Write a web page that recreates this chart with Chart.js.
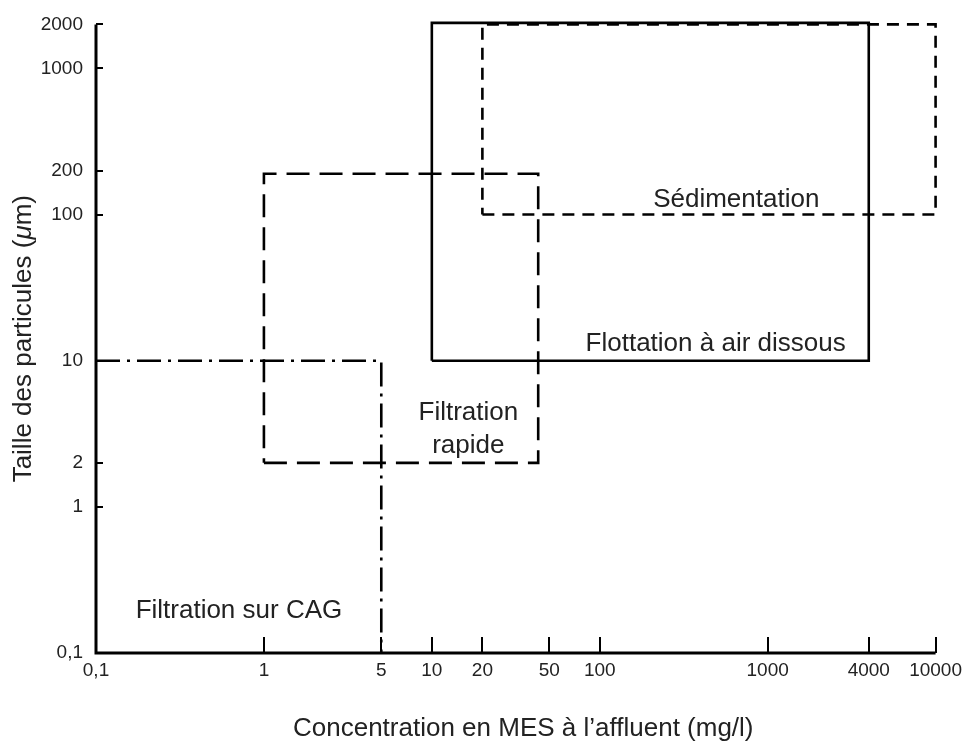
<!DOCTYPE html>
<html>
<head>
<meta charset="utf-8">
<script src="https://cdn.jsdelivr.net/npm/chart.js@4/dist/chart.umd.min.js"></script>
<style>
  html,body{margin:0;padding:0;background:#fff;}
  #wrap{width:968px;height:744px;}
</style>
</head>
<body>
<div id="wrap"><canvas id="c" width="968" height="744"></canvas></div>
<script>
// tick values and labels
const xTicks = [0.1, 1, 5, 10, 20, 50, 100, 1000, 4000, 10000];
const xTickLabels = ['0,1', '1', '5', '10', '20', '50', '100', '1000', '4000', '10000'];
const yTicks = [0.1, 1, 2, 10, 100, 200, 1000, 2000];
const yTickLabels = ['0,1', '1', '2', '10', '100', '200', '1000', '2000'];

// domains: [xmin, xmax, ymin, ymax]
const cag = [[0.1, 10], [5, 10], [5, 0.1]];
const rapide = [1, 43, 2, 190];
const flottation = [10, 4000, 10, 2050];
const sedimentation = [20, 10000, 100, 2000];

// label anchors (data coordinates)
const areaLabels = [
  {text: ['Sédimentation'], x: 650, y: 127},
  {text: ['Flottation à air dissous'], x: 490, y: 13},
  {text: ['Filtration', 'rapide'], x: 16.5, y: 3.4},
  {text: ['Filtration sur CAG'], x: 0.71, y: 0.194}
];

const xTitle = 'Concentration en MES à l\u2019affluent (mg/l)';
const yTitle = ['Taille des particules (', '\u03bc', 'm)'];

function box(b){
  return [{x:b[0],y:b[2]},{x:b[1],y:b[2]},{x:b[1],y:b[3]},{x:b[0],y:b[3]},{x:b[0],y:b[2]}];
}

const FONT = '"Liberation Sans", Arial, sans-serif';

const overlay = {
  id: 'overlay',
  afterDatasetsDraw(chart){
    const ctx = chart.ctx, xs = chart.scales.x, ys = chart.scales.y, a = chart.chartArea;
    ctx.save();
    // axes
    ctx.strokeStyle = '#000';
    ctx.lineWidth = 3;
    ctx.beginPath();
    ctx.moveTo(a.left, a.top);
    ctx.lineTo(a.left, a.bottom);
    ctx.lineTo(a.right, a.bottom);
    ctx.stroke();
    // inward ticks
    ctx.lineWidth = 2;
    ctx.beginPath();
    xTicks.forEach(v => {
      if (v === xTicks[0]) return;
      const px = Math.round(xs.getPixelForValue(v));
      ctx.moveTo(px, a.bottom);
      ctx.lineTo(px, a.bottom - 16);
    });
    yTicks.forEach(v => {
      const py = Math.round(ys.getPixelForValue(v));
      ctx.moveTo(a.left, py);
      ctx.lineTo(a.left + 7, py);
    });
    ctx.stroke();
    // area labels
    ctx.fillStyle = '#222';
    ctx.font = '26px ' + FONT;
    ctx.textAlign = 'center';
    ctx.textBaseline = 'middle';
    areaLabels.forEach(l => {
      const px = xs.getPixelForValue(l.x), py = ys.getPixelForValue(l.y);
      const n = l.text.length;
      l.text.forEach((t, i) => ctx.fillText(t, px, py + (i - (n - 1) / 2) * 33));
    });
    // x title
    ctx.textAlign = 'left';
    ctx.fillText(xTitle, 293, 729);
    // y title, with italic mu
    ctx.translate(24, (a.top + a.bottom) / 2);
    ctx.rotate(-Math.PI / 2);
    const parts = yTitle.map((t, i) => ({t, f: (i === 1 ? 'italic ' : '') + '26px ' + FONT}));
    let total = 0;
    parts.forEach(p => { ctx.font = p.f; p.w = ctx.measureText(p.t).width; total += p.w; });
    let cx = -total / 2;
    parts.forEach(p => { ctx.font = p.f; ctx.fillText(p.t, cx, 0); cx += p.w; });
    ctx.restore();
  }
};

const common = {showLine: true, pointRadius: 0, borderColor: '#000', borderWidth: 2.6, fill: false, tension: 0, clip: false};

new Chart(document.getElementById('c'), {
  type: 'scatter',
  data: {
    datasets: [
      Object.assign({data: cag.map(p => ({x: p[0], y: p[1]})), borderDash: [24, 7, 3, 7]}, common),
      Object.assign({data: box(rapide), borderDash: [23, 10]}, common),
      Object.assign({data: box(flottation)}, common),
      Object.assign({data: box(sedimentation), borderDash: [12, 8]}, common)
    ]
  },
  options: {
    responsive: false,
    animation: false,
    layout: {padding: {top: 21, right: 30, left: 0, bottom: 0}},
    plugins: {legend: {display: false}, tooltip: {enabled: false}},
    scales: {
      x: {
        type: 'logarithmic', min: 0.1, max: 10000,
        afterBuildTicks: s => { s.ticks = xTicks.map(v => ({value: v})); },
        afterFit: s => { s.height = 91; },
        grid: {display: false, drawTicks: false},
        border: {display: false},
        ticks: {
          autoSkip: false, maxRotation: 0, padding: 6, color: '#222',
          font: {family: FONT, size: 19},
          callback: (v, i) => xTickLabels[i]
        }
      },
      y: {
        type: 'logarithmic', min: 0.1, max: 2000,
        afterBuildTicks: s => { s.ticks = yTicks.map(v => ({value: v})); },
        afterFit: s => { s.width = 96; },
        grid: {display: false, drawTicks: false},
        border: {display: false},
        ticks: {
          autoSkip: false, padding: 13, color: '#222',
          font: {family: FONT, size: 19},
          callback: (v, i) => yTickLabels[i]
        }
      }
    }
  },
  plugins: [overlay]
});
</script>
</body>
</html>
